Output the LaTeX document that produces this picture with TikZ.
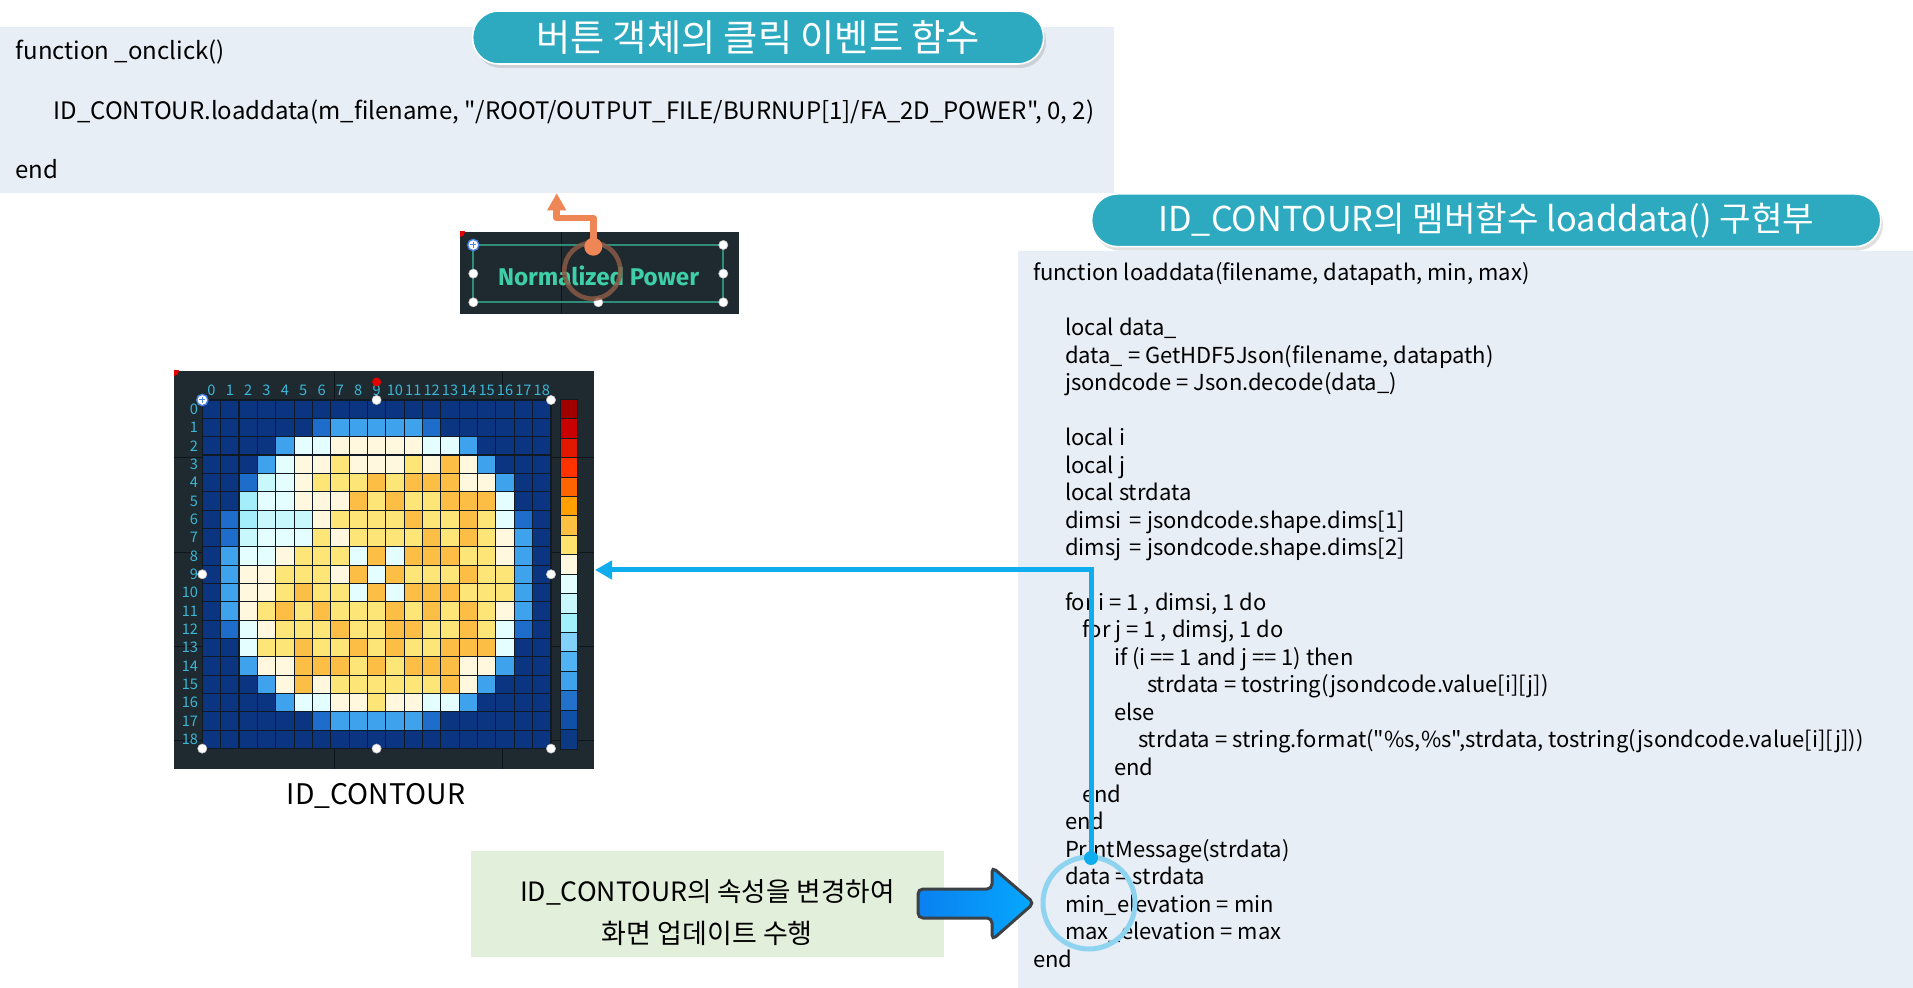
\documentclass[tikz,border=0pt]{standalone}
\usepackage{fontspec}
\setmainfont{Noto Sans CJK KR}[Ligatures=TeXOff]
\newfontfamily\btnfont{Fira Sans}
\usetikzlibrary{arrows.meta,calc}
\definecolor{codebg}{HTML}{E8EEF5}
\definecolor{pill}{HTML}{2DAABF}
\definecolor{greenbox}{HTML}{E2EFDA}
\definecolor{imgbg}{HTML}{1E2930}
\definecolor{imgline}{HTML}{0E151A}
\definecolor{cellline}{HTML}{0F1A24}
\definecolor{lbl}{HTML}{3BB6D6}
\definecolor{btntxt}{HTML}{3ECFA6}
\definecolor{btnframe}{HTML}{2E8C78}
\definecolor{orng}{HTML}{EE8656}
\definecolor{orngring}{HTML}{8A5A44}
\definecolor{bluecon}{HTML}{0FADEE}
\definecolor{ringblue}{HTML}{8ED4F0}
\definecolor{arrL}{HTML}{0A80F0}
\definecolor{arrR}{HTML}{05A8FD}
\definecolor{arrEdge}{HTML}{3C4145}
\definecolor{handleblue}{HTML}{4A86E8}
\definecolor{gD}{HTML}{0B3580}
\definecolor{gA}{HTML}{1F6DCB}
\definecolor{gB}{HTML}{3EA2EC}
\definecolor{gP}{HTML}{A4EEFC}
\definecolor{gQ}{HTML}{C8F8FC}
\definecolor{gR}{HTML}{E4FEFF}
\definecolor{gW}{HTML}{FFF8DE}
\definecolor{gY}{HTML}{FDE577}
\definecolor{gO}{HTML}{FCBE44}
\newcommand\mycodefont{\fontsize{11pt}{13pt}\selectfont}
\newcommand\mytopfont{\fontsize{12pt}{14pt}\selectfont}
\newcommand\dq{\symbol{34}}
\begin{document}
\begin{tikzpicture}[x=0.5pt,y=-0.5pt,
  txt/.style={inner sep=0pt, outer sep=0pt},
  codeline/.style={txt, anchor=base west, font=\mycodefont, text=black},
  topline/.style={txt, anchor=base west, font=\mytopfont, text=black},
  pillbox/.style={fill=pill, draw=white, line width=0.8pt, rounded corners=13pt, inner sep=0pt, text=white},
  handle/.style={circle, fill=white, draw=gray!50, line width=0.3pt, minimum size=4.6pt, inner sep=0pt},
  plushandle/.style={circle, fill=white, draw=handleblue, line width=0.7pt, minimum size=5.6pt, inner sep=0pt},
  lblstyle/.style={txt, text=lbl, font=\fontsize{7.3pt}{8pt}\selectfont},
]
\useasboundingbox (0,0) rectangle (1913,988);

% ---------- code boxes ----------
\node[fill=codebg, minimum width=557pt, minimum height=83pt, inner sep=0pt, anchor=north west] (codeTop) at (0,27) {};
\node[fill=codebg, minimum width=447.5pt, minimum height=368.5pt, inner sep=0pt, anchor=north west] (codeR) at (1018,251) {};

\node[topline] (tc1) at (15.7,60) {function \_onclick()};
\node[topline] (tc2) at (53.6,120) {ID\_CONTOUR.loaddata(m\_filename, \dq/ROOT/OUTPUT\_FILE/BURNUP[1]/FA\_2D\_POWER\dq, 0, 2)};
\node[topline] (tc3) at (15.7,178.3) {end};

\foreach \ln/\xx/\txt in {
  0/1033/{function loaddata(filename, datapath, min, max)},
  2/1065/{local data\_},
  3/1065/{data\_ = GetHDF5Json(filename, datapath)},
  4/1065/{jsondcode = Json.decode(data\_)},
  6/1065/{local i},
  7/1065/{local j},
  8/1065/{local strdata},
  9/1065/{dimsi \,= jsondcode.shape.dims[1]},
  10/1065/{dimsj \,= jsondcode.shape.dims[2]},
  12/1065/{for i = 1 , dimsi, 1 do},
  13/1082/{for j = 1 , dimsj, 1 do},
  14/1114/{if (i == 1 and j == 1) then},
  15/1147/{strdata = tostring(jsondcode.value[i][j])},
  16/1114/{else},
  17/1138/{strdata = string.format(\dq\%s,\%s\dq,strdata, tostring(jsondcode.value[i][j]))},
  18/1114/{end},
  19/1082/{end},
  20/1065/{end},
  21/1065/{PrintMessage(strdata)},
  22/1065/{data = strdata},
  23/1065/{min\_elevation = min},
  24/1065/{max\_elevation = max},
  25/1033/{end}}
  { \node[codeline] (rc\ln) at (\xx,{281+27.45*\ln}) {\txt}; }

% ---------- title pills ----------
\fill[black, opacity=0.12, rounded corners=13pt] (475,15) rectangle (1046,68);
\node[pillbox, minimum width=285.5pt, minimum height=26.5pt] (pillL) at (758.1,37.5)
  {\resizebox{222pt}{!}{\fontsize{15pt}{17pt}\selectfont 버튼 객체의 클릭 이벤트 함수}};
\fill[black, opacity=0.12, rounded corners=13pt] (1094,198) rectangle (1883,250.7);
\node[pillbox, minimum width=394.6pt, minimum height=26.4pt] (pillR) at (1486.2,220.3)
  {\resizebox{328pt}{!}{\fontsize{14pt}{16pt}\selectfont ID\_CONTOUR의 멤버함수 loaddata() 구현부}};

% ---------- button ----------
\node[fill=imgbg, minimum width=139.5pt, minimum height=41pt, inner sep=0pt] (btn) at (599.5,273) {};
\draw[imgline, line width=0.6pt] (561.7,232) -- (561.7,314);
\begin{scope}
\clip (460,232) rectangle (739,314);
\fill[red!90!black] (460,232) circle (5);
\end{scope}
\node[draw=btnframe, line width=1pt, minimum width=125pt, minimum height=28.65pt, inner sep=0pt] (btnframe) at (598.3,273.65) {};
\node[txt, text=btntxt] (btntext) at (598.5,276) {\resizebox{100.5pt}{!}{\btnfont\bfseries Normalized Power}};
\foreach \p/\q [count=\n] in {723.3/245, 473.3/273.65, 723.3/273.65, 473.3/302.3, 598.3/302.3, 723.3/302.3}
  { \node[handle] (bh\n) at (\p,\q) {}; }
\node[plushandle] (bplus) at (473.3,245) {};
\draw[handleblue, line width=0.5pt] (470.3,245) -- (476.3,245) (473.3,242) -- (473.3,248);

% orange annotation
\draw[orngring, opacity=0.85, line width=2.3pt] (592.3,270.7) circle (28);
\coordinate (orgdot) at (593.3,246.7);
\coordinate (orgtip) at (556.7,193.3);
\draw[orng, line width=3.3pt, line join=round, -{Triangle[width=9pt,length=8.5pt]}]
  (orgdot) -- (593.3,218) -- (556.7,218) -- (orgtip);
\fill[orng] (orgdot) circle (9);

% ---------- contour image ----------
\node[fill=imgbg, minimum width=210pt, minimum height=199pt, inner sep=0pt] (img) at (384,570) {};
\foreach \yy in {457.7,552.3,646.7,740.7} { \draw[imgline, line width=0.6pt] (174,\yy) -- (594,\yy); }
\foreach \xx in {334.7,502.3} { \draw[imgline, line width=0.6pt] (\xx,371) -- (\xx,769); }
\begin{scope}
\clip (174,371) rectangle (594,769);
\fill[red!90!black] (174,371) circle (5);
\end{scope}

\foreach \row [count=\r from 0] in {
 {D,D,D,D,D,D,D,D,D,D,D,D,D,D,D,D,D,D,D},
 {D,D,D,D,D,D,A,B,B,B,B,B,A,D,D,D,D,D,D},
 {D,D,D,D,B,R,R,W,W,W,W,W,R,R,B,D,D,D,D},
 {D,D,D,B,R,W,W,Y,W,W,W,Y,W,O,W,B,D,D,D},
 {D,D,A,Q,R,W,Y,Y,Y,O,Y,O,O,O,W,W,B,D,D},
 {D,D,P,R,R,W,W,W,O,Y,O,Y,Y,O,O,O,R,D,D},
 {D,A,P,Q,Q,Q,W,Y,Y,Y,Y,O,Y,Y,O,Y,R,A,D},
 {D,A,Q,R,R,R,Y,W,Y,Y,Y,Y,O,Y,O,Y,W,B,D},
 {D,B,R,R,W,Y,Y,Y,R,O,R,O,O,O,Y,Y,W,B,D},
 {D,B,W,W,Y,Y,Y,W,O,R,O,Y,Y,Y,O,Y,Y,B,D},
 {D,B,W,W,Y,O,Y,Y,R,O,R,O,O,O,Y,Y,Y,B,D},
 {D,B,W,Y,O,Y,O,Y,Y,Y,O,Y,O,Y,O,Y,W,B,D},
 {D,A,R,W,Y,Y,Y,O,Y,Y,O,O,Y,Y,O,Y,R,A,D},
 {D,D,R,Y,Y,O,Y,Y,O,Y,O,Y,Y,O,O,O,R,D,D},
 {D,D,B,W,W,O,O,O,Y,O,Y,O,O,O,W,W,B,D,D},
 {D,D,D,B,W,O,W,Y,Y,Y,Y,Y,Y,O,W,B,D,D,D},
 {D,D,D,D,B,R,R,W,W,Y,W,W,R,R,B,D,D,D,D},
 {D,D,D,D,D,D,A,B,B,B,B,B,A,D,D,D,D,D,D},
 {D,D,D,D,D,D,D,D,D,D,D,D,D,D,D,D,D,D,D}} {
  \foreach \c [count=\k from 0] in \row {
    \fill[fill=g\c] ({202.3+18.35*\k},{400+18.35*\r}) rectangle ++(18.35,18.35);
  }
}
\foreach \i in {0,...,19} {
  \draw[cellline, line width=0.55pt] ({202.3+18.35*\i},400) -- ({202.3+18.35*\i},748.65);
  \draw[cellline, line width=0.55pt] (202.3,{400+18.35*\i}) -- (550.95,{400+18.35*\i});
}
\foreach \i in {0,...,18} {
  \node[lblstyle, anchor=east] (rl\i) at (198,{400+18.35*(\i+0.5)}) {\i};
  \node[lblstyle, anchor=base] (cl\i) at ({202.3+18.35*(\i+0.5)},396) {\i};
}
% colour bar
\foreach \h [count=\k from 0] in {A00000,C80000,E01800,FF3300,FF6400,FFA000,FDC040,FDE26E,FFF8E0,E2FEFF,C8F8FC,A2F0FC,80D0FA,50B4F4,3EA2EC,2272CC,1050A8,0C3A82} {
  \definecolor{cbtmp}{HTML}{\h}
  \fill[fill=cbtmp, draw=cellline, line width=0.5pt] (560.7,{399.3+19.43*\k}) rectangle (577.3,{399.3+19.43*(\k+1)});
}
\node[inner sep=0pt, minimum width=8.3pt, minimum height=174.9pt] (cbar) at (569,574.2) {};
% handles
\foreach \p/\q [count=\n] in {376.6/400, 551/400, 202.3/574.3, 551/574.3, 202.3/748.6, 376.6/748.6, 551/748.6}
  { \node[handle] (ih\n) at (\p,\q) {}; }
\node[plushandle] (iplus) at (202.3,400) {};
\draw[handleblue, line width=0.5pt] (199.3,400) -- (205.3,400) (202.3,397) -- (202.3,403);
\fill[red!90!black] (376.6,382) circle (4.5);

\node[txt, font=\fontsize{12pt}{14pt}\selectfont] (imglabel) at (376,795.5) {\resizebox{89pt}{!}{ID\_CONTOUR}};

% ---------- note box ----------
\node[fill=greenbox, minimum width=236.6pt, minimum height=52.85pt, inner sep=0pt] (note) at (707.4,903.9) {};
\node[txt, font=\fontsize{13.3pt}{16pt}\selectfont] (note1) at (707.4,892.5) {ID\_CONTOUR의 속성을 변경하여};
\node[txt, font=\fontsize{13.5pt}{16pt}\selectfont] (note2) at (707.4,933) {화면 업데이트 수행};

% block arrow
\shade[left color=arrL, right color=arrR, draw=arrEdge, line width=1.5pt, rounded corners=2.5pt]
  (918,889) -- (992,889) -- (992,867) -- (1034,903) -- (992,940) -- (992,918) -- (918,918) -- cycle;

% ---------- blue connector ----------
\draw[ringblue, line width=2.5pt] (1089,903) circle (46);
\coordinate (bluedot) at (1091,858);
\coordinate (bluetip) at (595,570);
\draw[bluecon, line width=2.5pt, -{Triangle[width=9pt,length=8.5pt]}] (bluedot) -- (1091,570) -- (bluetip);
\fill[bluecon] (bluedot) circle (7);
\end{tikzpicture}
\end{document}
